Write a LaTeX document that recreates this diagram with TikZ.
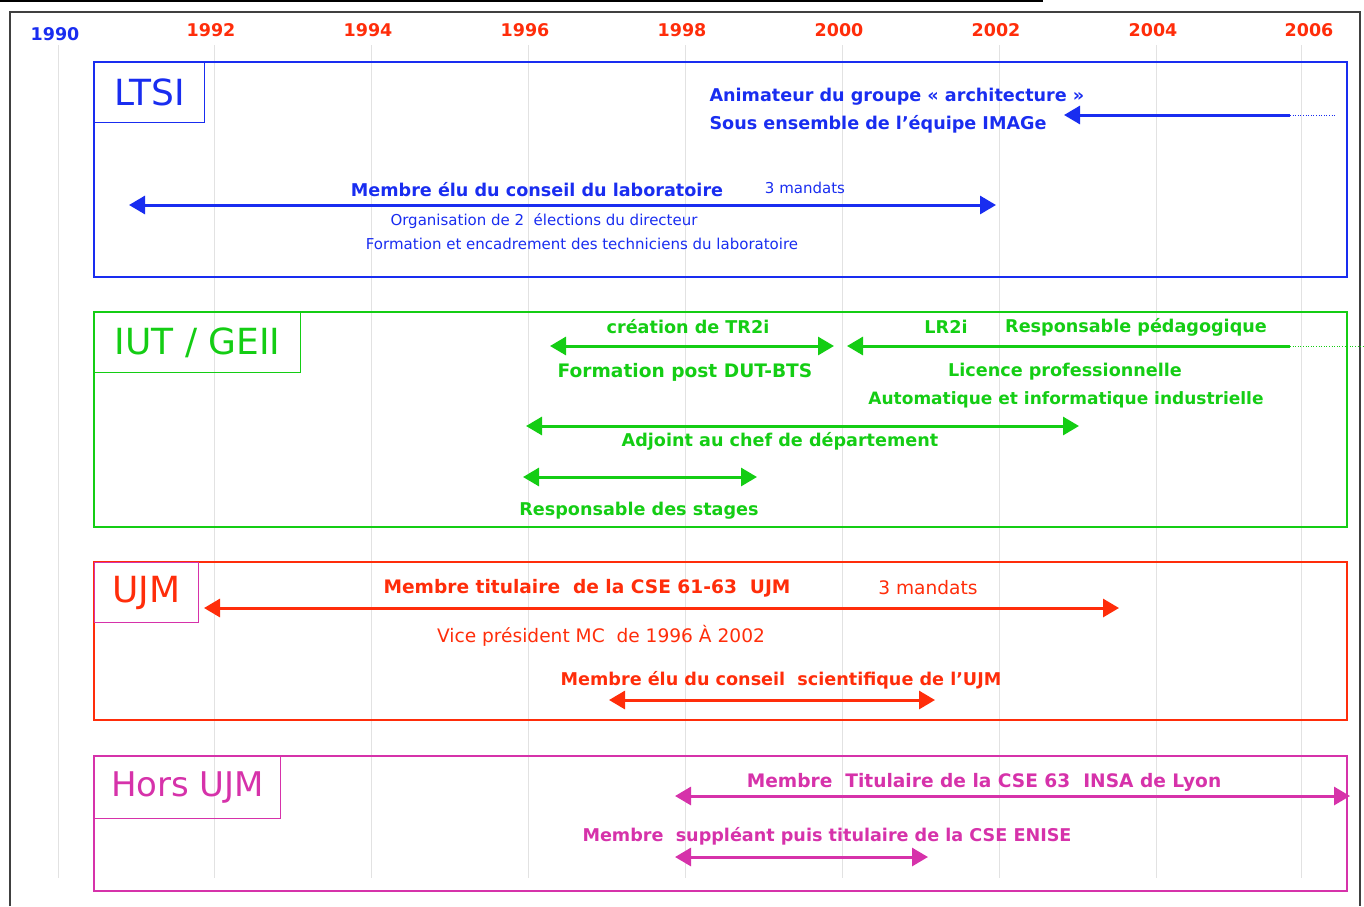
\documentclass[tikz,border=0pt]{standalone}
\usepackage{fontspec}
\setmainfont{DejaVu Sans}
\usetikzlibrary{arrows.meta}

\definecolor{bleuL}{RGB}{25,45,240}
\definecolor{vertI}{RGB}{20,205,20}
\definecolor{rougeU}{RGB}{255,45,10}
\definecolor{roseH}{RGB}{214,50,170}
\definecolor{grille}{RGB}{226,226,226}

\begin{document}
\begin{tikzpicture}[
        x=1pt, y=-1pt,
        annee/.style={font=\fontsize{17.5}{20}\selectfont\bfseries, text=rougeU},
        titre/.style={draw, anchor=north west, line width=1.2pt, minimum height=60pt,
            font=\fontsize{36}{40}\selectfont},
        gras/.style={font=\fontsize{17.6}{20}\selectfont\bfseries},
        grand/.style={font=\fontsize{18.6}{21}\selectfont\bfseries},
        fin/.style={font=\fontsize{18.6}{21}\selectfont},
        petit/.style={font=\fontsize{15}{18}\selectfont},
        cadre/.style={line width=1.2pt},
        fleche/.style={line width=3pt, {Triangle[length=16pt,width=18pt]}-{Triangle[length=16pt,width=18pt]}},
        gauche/.style={line width=3pt, -{Triangle[length=16pt,width=18pt]}},
        suite/.style={line width=0.6pt, dotted}
    ]
        \useasboundingbox (0,0) rectangle (1364,906);

        % Trait du haut et cadre general
        \draw[line width=2pt] (0,1) -- (1043,1);
        \draw[line width=1.5pt, black!75] (10,906) -- (10,12) -- (1360,12) -- (1360,906);

        % --- ANNEES ET GRILLE ---
        \foreach \x in {58,214,371,528,685,842,999,1156,1301} {
            \draw[grille, line width=1pt] (\x,45) -- (\x,878);
        }
        \node[annee, text=bleuL] (a1990) at (55,34) {1990};
        \foreach \an/\x in {1992/211,1994/368,1996/525,1998/682,2000/839,2002/996,2004/1153,2006/1309} {
            \node[annee] (a\an) at (\x,30) {\an};
        }

        % --- LTSI ---
        \draw[cadre, bleuL] (94,62) rectangle (1347,277);
        \node[titre, bleuL, minimum width=110pt] (ltsi) at (94,62) {LTSI};

        \node[gras, text=bleuL, anchor=west] (anim) at (706,97) {Animateur du groupe « architecture »};
        \node[gras, text=bleuL, anchor=west] (sous) at (706,124) {Sous ensemble de l'équipe IMAGe};
        \coordinate (ltsiA) at (1290,115);
        \coordinate (ltsiB) at (1064,115);
        \coordinate (ltsiC) at (1335,115);
        \draw[gauche, bleuL] (ltsiA) -- (ltsiB);
        \draw[suite, bleuL] (ltsiA) -- (ltsiC);

        \coordinate (consL) at (129,205);
        \coordinate (consR) at (996,205);
        \draw[fleche, bleuL] (consL) -- (consR);
        \node[gras, text=bleuL] (cons) at (537,190) {Membre élu du conseil du laboratoire};
        \node[petit, text=bleuL] (mand1) at (805,188) {3 mandats};
        \node[petit, text=bleuL] (orga) at (544,221) {Organisation de 2~ élections du directeur};
        \node[petit, text=bleuL] (form) at (582,244) {Formation et encadrement des techniciens du laboratoire};

        % --- IUT / GEII ---
        \draw[cadre, vertI] (94,312) rectangle (1347,527);
        \node[titre, vertI, minimum width=206pt] (iut) at (94,312) {IUT / GEII};

        \coordinate (tr2iL) at (550,346);
        \coordinate (tr2iR) at (834,346);
        \draw[fleche, vertI] (tr2iL) -- (tr2iR);
        \node[gras, text=vertI] (tr2i) at (688,327) {création de TR2i};
        \node[grand, text=vertI] (post) at (685,372) {Formation post DUT-BTS};

        \coordinate (lr2iA) at (1290,346);
        \coordinate (lr2iB) at (847,346);
        \coordinate (lr2iC) at (1364,346);
        \draw[gauche, vertI] (lr2iA) -- (lr2iB);
        \draw[suite, vertI] (lr2iA) -- (lr2iC);
        \node[gras, text=vertI] (lr2i) at (946,327) {LR2i};
        \node[gras, text=vertI] (peda) at (1136,327) {Responsable pédagogique};
        \node[gras, text=vertI] (lic) at (1065,372) {Licence professionnelle};
        \node[font=\fontsize{17}{20}\selectfont\bfseries, text=vertI] (auto) at (1066,400) {Automatique et informatique industrielle};

        \coordinate (adjL) at (526,426);
        \coordinate (adjR) at (1079,426);
        \draw[fleche, vertI] (adjL) -- (adjR);
        \node[gras, text=vertI] (adj) at (780,441) {Adjoint au chef de département};

        \coordinate (stgL) at (523,477);
        \coordinate (stgR) at (757,477);
        \draw[fleche, vertI] (stgL) -- (stgR);
        \node[gras, text=vertI] (stg) at (639,511) {Responsable des stages};

        % --- UJM ---
        \draw[cadre, rougeU] (94,562) rectangle (1347,720);
        \node[titre, draw=roseH, text=rougeU, minimum width=104pt] (ujm) at (94,562) {UJM};

        \coordinate (cseL) at (204,608);
        \coordinate (cseR) at (1119,608);
        \draw[fleche, rougeU] (cseL) -- (cseR);
        \node[grand, text=rougeU] (cse) at (587,588) {Membre titulaire~ de la CSE 61-63~ UJM};
        \node[fin, text=rougeU] (mand2) at (928,588) {3 mandats};
        \node[fin, text=rougeU] (vice) at (601,636) {Vice président MC~ de 1996 À 2002};

        \node[gras, text=rougeU] (scien) at (781,680) {Membre élu du conseil~ scientifique de l'UJM};
        \coordinate (scienL) at (609,700);
        \coordinate (scienR) at (935,700);
        \draw[fleche, rougeU] (scienL) -- (scienR);

        % --- HORS UJM ---
        \draw[cadre, roseH] (94,756) rectangle (1347,891);
        \node[titre, roseH, minimum width=186pt, minimum height=62pt,
            font=\fontsize{34}{38}\selectfont] (hors) at (94,756) {Hors UJM};

        \coordinate (insaL) at (675,796);
        \coordinate (insaR) at (1350,796);
        \draw[fleche, roseH] (insaL) -- (insaR);
        \node[grand, text=roseH] (insa) at (984,782) {Membre~ Titulaire de la CSE 63~ INSA de Lyon};

        \node[gras, text=roseH] (enise) at (827,836) {Membre~ suppléant puis titulaire de la CSE ENISE};
        \coordinate (eniseL) at (675,857);
        \coordinate (eniseR) at (928,857);
        \draw[fleche, roseH] (eniseL) -- (eniseR);
    \end{tikzpicture}
\end{document}
